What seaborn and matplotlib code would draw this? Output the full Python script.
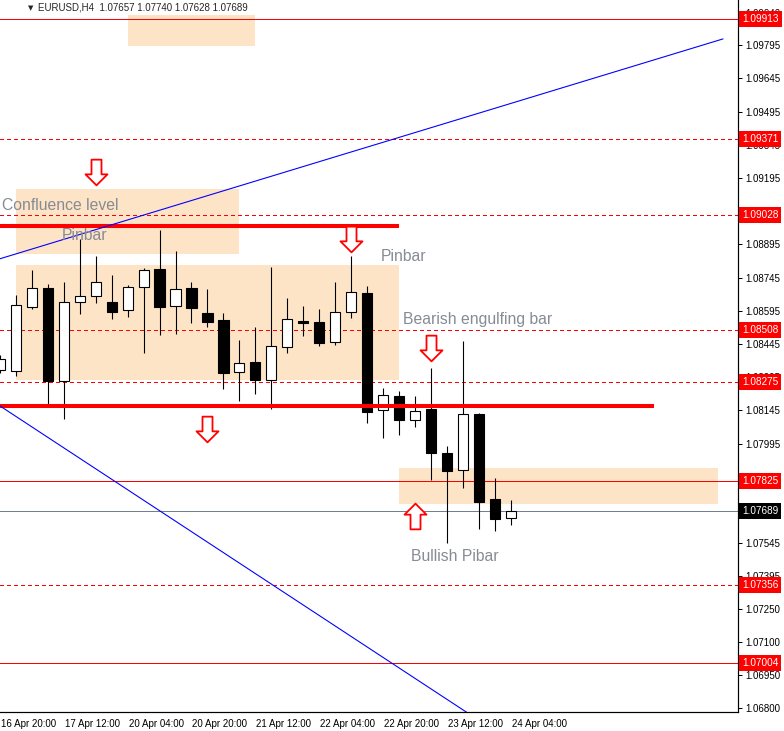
import numpy as np
import pandas as pd
import matplotlib
matplotlib.use("Agg")
import matplotlib.pyplot as plt
import seaborn as sns
from matplotlib.path import Path
from matplotlib.patches import Rectangle
from matplotlib.transforms import ScaledTranslation

# ---------------- data ----------------
bar_index = list(range(33))
open_ = [1.08328, 1.08323, 1.08612, 1.08698, 1.08278, 1.08635, 1.08662, 1.08635,
         1.08599, 1.08702, 1.08784, 1.08617, 1.08698, 1.08585, 1.08553, 1.08319,
         1.08364, 1.08282, 1.08431, 1.08549, 1.08544, 1.08454, 1.08590, 1.08675,
         1.08147, 1.08210, 1.08102, 1.08151, 1.07953, 1.07876, 1.08129, 1.07745,
         1.07657]
high = [1.08395, 1.08666, 1.08779, 1.08716, 1.08725, 1.08919, 1.08843, 1.08757,
        1.08712, 1.08788, 1.08960, 1.08865, 1.08725, 1.08693, 1.08585, 1.08463,
        1.08522, 1.08793, 1.08653, 1.08617, 1.08603, 1.08725, 1.08843, 1.08707,
        1.08246, 1.08233, 1.08210, 1.08337, 1.07984, 1.08459, 1.08133, 1.07840,
        1.07740]
low = [1.08314, 1.08300, 1.08603, 1.08169, 1.08106, 1.08581, 1.08630, 1.08558,
       1.08567, 1.08404, 1.08486, 1.08490, 1.08540, 1.08522, 1.08242, 1.08188,
       1.08219, 1.08151, 1.08404, 1.08481, 1.08436, 1.08441, 1.08562, 1.08088,
       1.08020, 1.08034, 1.08070, 1.07831, 1.07546, 1.07795, 1.07609, 1.07600,
       1.07628]
close = [1.08377, 1.08621, 1.08698, 1.08278, 1.08635, 1.08662, 1.08725, 1.08590,
         1.08702, 1.08779, 1.08612, 1.08693, 1.08608, 1.08544, 1.08314, 1.08359,
         1.08282, 1.08436, 1.08558, 1.08540, 1.08450, 1.08590, 1.08680, 1.08138,
         1.08215, 1.08102, 1.08142, 1.07953, 1.07871, 1.08129, 1.07731, 1.07655,
         1.07689]

x_tick_bars = [0, 4, 8, 12, 16, 20, 24, 28, 32]
x_tick_labels = ["16 Apr 20:00", "17 Apr 12:00", "20 Apr 04:00", "20 Apr 20:00",
                 "21 Apr 12:00", "22 Apr 04:00", "22 Apr 20:00", "23 Apr 12:00",
                 "24 Apr 04:00"]
y_tick_values = [1.06800, 1.06950, 1.07100, 1.07250, 1.07395, 1.07545,
                 1.07845, 1.07995, 1.08145, 1.08295, 1.08445, 1.08595, 1.08745,
                 1.08895, 1.09195, 1.09345, 1.09495, 1.09645, 1.09795,
                 1.09940]
y_tick_labels = [f"{v:.5f}" for v in y_tick_values]

solid_levels = [1.09913, 1.07825, 1.07004]
dashed_levels = [1.09371, 1.09028, 1.08508, 1.08275, 1.07356]
bid_price = 1.07689

# support / resistance thick lines: (start bar, end bar, price)
thick_start = [-1, -1]
thick_end = [25, 41]
thick_price = [1.08978, 1.08165]

# zones: start bar, end bar, top price, bottom price
zone_start = [8, 1, 1, 25]
zone_end = [16, 15, 25, 45]
zone_top = [1.09931, 1.09145, 1.08802, 1.07885]
zone_bottom = [1.09791, 1.08851, 1.08282, 1.07722]

# trend lines (bar, price) anchors
trend_up_bars = [0, 45.31]
trend_up_prices = [1.08830, 1.09823]
trend_down_bars = [0, 29.4]
trend_down_prices = [1.08165, 1.06774]

# arrows
down_arrow_bars = [6, 22, 13, 27]
down_arrow_prices = [1.09222, 1.08919, 1.08061, 1.08427]
up_arrow_bars = [26]
up_arrow_prices = [1.07668]

# annotations
note_texts = ["Confluence level", "Pinbar", "Pinbar", "Bearish engulfing bar", "Bullish Pibar"]
note_bars = [0.15, 3.875, 23.875, 25.25, 25.75]
note_prices = [1.09070, 1.08933, 1.08842, 1.08556, 1.07483]

title_text = "EURUSD,H4  1.07657 1.07740 1.07628 1.07689"

# ---------------- style ----------------
sns.set_style("white")
plt.rcParams["font.family"] = ["Liberation Sans", "DejaVu Sans"]

W, H = 784, 731
fig = plt.figure(figsize=(W / 100, H / 100), dpi=100)
ax = fig.add_axes([0, 1 - 712 / H, 738 / W, 712 / H])
ax.set_xlim(0.125, 46.25)
ax.set_ylim(1.067826, 1.099988)
ax.set_facecolor("white")

PX = 0.72  # one pixel in points
RED = "#ff0000"

# zones (background)
for s, e, t, b in zip(zone_start, zone_end, zone_top, zone_bottom):
    ax.add_patch(Rectangle((s, b), e - s, t - b, facecolor="#fde4c6",
                           edgecolor="none", zorder=0.5))

# levels
for p in solid_levels:
    ax.axhline(p, color=RED, lw=PX, zorder=1, antialiased=False)
for p in dashed_levels:
    ax.axhline(p, color=RED, lw=PX, ls=(0, (4, 4)), zorder=1, antialiased=False)
ax.axhline(bid_price, color="#708090", lw=PX, zorder=1, antialiased=False)

# candles
df = pd.DataFrame({"i": bar_index, "o": open_, "h": high, "l": low, "c": close})
ax.vlines(df["i"], df["l"], df["h"], color="black", lw=PX * 1.1, zorder=2)
bull = df["c"] >= df["o"]
bottoms = np.minimum(df["o"], df["c"])
heights = np.maximum(np.abs(df["c"] - df["o"]), 0.00002)
ax.bar(df["i"], heights, bottom=bottoms, width=0.64,
       color=np.where(bull, "white", "black"), edgecolor="black",
       linewidth=PX * 1.1, zorder=3)

# thick horizontal lines
for s, e, p in zip(thick_start, thick_end, thick_price):
    ax.plot([s, e], [p, p], color=RED, lw=2.9, solid_capstyle="butt", zorder=4)

# trend lines with seaborn
sns.lineplot(x=trend_up_bars, y=trend_up_prices, color="#0000ff", lw=PX * 1.1,
             ax=ax, legend=False, zorder=4)
sns.lineplot(x=trend_down_bars, y=trend_down_prices, color="#0000ff", lw=PX * 1.1,
             ax=ax, legend=False, zorder=4)

# arrows
dv = [(-5, 12.85), (5, 12.85), (5, -1.85), (11, -1.85), (0, -12.85),
      (-11, -1.85), (-5, -1.85), (-5, 12.85)]
codes = [Path.MOVETO] + [Path.LINETO] * 6 + [Path.CLOSEPOLY]
down_path = Path(dv, codes)
up_path = Path([(x, -y) for x, y in dv], codes)
ax.plot(down_arrow_bars, down_arrow_prices, ls="none", marker=down_path,
        ms=18.5, mfc="white", mec=RED, mew=1.3, zorder=5)
ax.plot(up_arrow_bars, up_arrow_prices, ls="none", marker=up_path,
        ms=18.5, mfc="white", mec=RED, mew=1.3, zorder=5)

# notes
for t, b, p in zip(note_texts, note_bars, note_prices):
    ax.text(b, p, t, color="#868b94", fontsize=11.3, ha="left", va="center", zorder=6)

# axes styling
for sp in ["top", "left"]:
    ax.spines[sp].set_visible(False)
for sp in ["right", "bottom"]:
    ax.spines[sp].set_color("black")
    ax.spines[sp].set_linewidth(PX * 1.2)

ax.yaxis.tick_right()
ax.set_yticks(y_tick_values)
ax.set_yticklabels(y_tick_labels)
ax.tick_params(axis="y", direction="out", length=3, width=PX, color="black",
               labelsize=7, pad=2, labelcolor="black")
ax.set_xticks(x_tick_bars)
ax.set_xticklabels(x_tick_labels)
ax.tick_params(axis="x", direction="out", length=3, width=PX, color="black",
               labelsize=7, pad=2, labelcolor="black")
off = ScaledTranslation(1 / 100, 0, fig.dpi_scale_trans)
for lab in ax.get_xticklabels():
    lab.set_horizontalalignment("left")
    lab.set_transform(lab.get_transform() + off)
# label of the partially visible first bar
xl = ax.get_xlim()[0]
for b, t in zip(x_tick_bars, x_tick_labels):
    if b < xl:
        ax.text(b, -0.0045, t, transform=ax.get_xaxis_transform() + off,
                fontsize=7, ha="left", va="top", clip_on=False)
ax.set_xlabel("")
ax.set_ylabel("")
ax.grid(False)

# price labels on the right axis
ytr = ax.get_yaxis_transform() + ScaledTranslation(4 / 100, 0, fig.dpi_scale_trans)
for p in solid_levels + dashed_levels:
    ax.text(1.0, p, f"{p:.5f}", transform=ytr, fontsize=7.2, color="white",
            ha="left", va="center", clip_on=False, zorder=10,
            bbox=dict(boxstyle="square,pad=0.3", fc=RED, ec="none"))
ax.text(1.0, bid_price, f"{bid_price:.5f}", transform=ytr, fontsize=7.2,
        color="white", ha="left", va="center", clip_on=False, zorder=10,
        bbox=dict(boxstyle="square,pad=0.3", fc="black", ec="none"))

# title
fig.text(28 / W, 1 - 8 / H, "\u25BC", fontsize=5, ha="left", va="center",
         family=["DejaVu Sans"])
fig.text(38 / W, 1 - 8 / H, title_text, fontsize=7, ha="left", va="center")

fig.savefig("out.png", dpi=100)
